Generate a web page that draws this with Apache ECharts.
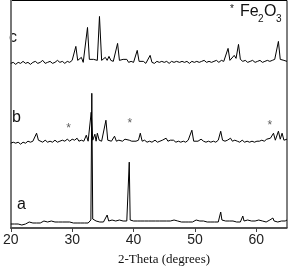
<!DOCTYPE html>
<html><head><meta charset="utf-8">
<script src="https://cdn.jsdelivr.net/npm/echarts@6/dist/echarts.min.js"></script>
<style>html,body{margin:0;padding:0;background:#fff}#c{width:288px;height:268px}</style>
</head><body><div id="c"></div>
<script>
// 2-Theta (degrees), intensity (arbitrary units, relative to each trace baseline)
const seriesA = [[20.0,0],[20.3,1],[20.6,0],[20.9,1],[21.2,0],[21.5,1],[21.8,-1],[22.1,1],[22.4,0],[22.7,1],[23.0,2],[23.3,0],[23.6,1],[23.9,2],[24.2,1],[24.5,2],[24.8,1],[25.1,2],[25.4,3],[25.7,1],[26.0,2],[26.3,1],[26.6,3],[26.9,1],[27.2,2],[27.5,1],[27.8,2],[28.1,1],[28.4,2],[28.7,1],[29.0,2],[29.3,1],[29.6,2],[29.9,0],[30.2,1],[30.5,2],[30.8,1],[31.1,2],[31.4,1],[31.7,2],[32.0,1],[32.3,2],[32.6,1],[32.9,2],[33.05,4],[33.2,131],[33.35,5],[33.6,4],[33.9,3],[34.2,4],[34.5,2],[34.8,3],[35.1,2],[35.4,3],[35.7,9],[35.95,3],[36.2,2],[36.5,4],[36.8,2],[37.1,3],[37.4,2],[37.7,4],[38.0,2],[38.3,3],[38.6,2],[38.9,3],[39.15,4],[39.3,62],[39.45,4],[39.7,2],[40.0,3],[40.3,2],[40.6,3],[40.9,2],[41.2,3],[41.5,2],[41.8,3],[42.1,2],[42.4,3],[42.7,2],[43.0,3],[43.3,2],[43.6,3],[43.9,2],[44.2,3],[44.5,2],[44.8,3],[45.1,2],[45.4,3],[45.7,2],[46.0,3],[46.3,2],[46.6,4],[46.9,2],[47.2,3],[47.5,4],[47.8,2],[48.1,3],[48.4,2],[48.7,3],[49.0,2],[49.3,3],[49.6,2],[49.9,3],[50.2,4],[50.5,2],[50.8,3],[51.1,2],[51.4,3],[51.7,4],[52.0,2],[52.3,3],[52.6,2],[52.9,3],[53.2,2],[53.5,3],[53.8,2],[54.05,3],[54.2,12],[54.4,4],[54.7,2],[55.0,3],[55.3,2],[55.6,3],[55.9,2],[56.2,3],[56.5,4],[56.8,2],[57.1,3],[57.4,2],[57.6,4],[57.8,8],[58.0,3],[58.3,2],[58.6,4],[58.9,2],[59.2,3],[59.5,2],[59.8,3],[60.1,2],[60.4,4],[60.7,2],[61.0,3],[61.3,4],[61.6,2],[61.9,3],[62.2,4],[62.5,3],[62.7,6],[62.9,3],[63.2,4],[63.5,2],[63.8,4],[64.1,3],[64.4,5],[64.7,3],[65.0,4]];
const seriesB = [[20.0,0],[20.4,1],[20.8,0],[21.2,1],[21.6,-1],[22.0,1],[22.4,0],[22.8,2],[23.2,1],[23.6,2],[23.9,3],[24.2,10],[24.5,3],[24.8,2],[25.2,1],[25.6,3],[26.0,1],[26.4,2],[26.8,1],[27.2,3],[27.6,1],[28.0,2],[28.4,3],[28.8,2],[29.2,4],[29.6,2],[30.0,4],[30.4,3],[30.8,5],[31.1,2],[31.5,3],[31.9,2],[32.3,8],[32.6,2],[32.9,3],[33.1,31],[33.35,3],[33.7,9],[33.9,2],[34.1,10],[34.4,3],[34.8,2],[35.1,4],[35.5,23],[35.8,3],[36.1,4],[36.4,2],[36.9,7],[37.2,2],[37.6,3],[37.9,5],[38.2,2],[38.6,4],[38.9,2],[39.3,3],[39.7,2],[40.0,4],[40.4,2],[40.8,3],[41.1,10],[41.4,2],[41.8,3],[42.2,1],[42.6,2],[43.0,1],[43.5,3],[43.9,1],[44.3,2],[44.7,3],[45.0,2],[45.3,5],[45.6,2],[46.0,3],[46.5,3],[46.9,1],[47.3,2],[47.7,1],[48.1,2],[48.5,1],[48.9,3],[49.2,2],[49.5,13],[49.8,2],[50.1,3],[50.5,2],[51.0,4],[51.4,2],[51.8,1],[52.2,2],[52.6,1],[53.0,2],[53.4,1],[53.8,3],[54.2,12],[54.5,3],[54.9,2],[55.3,3],[55.8,5],[56.1,2],[56.5,3],[56.9,2],[57.3,1],[57.7,3],[58.1,1],[58.5,2],[58.9,1],[59.3,2],[59.7,1],[60.1,2],[60.5,2],[60.9,3],[61.3,2],[61.7,4],[62.0,3],[62.3,5],[62.8,10],[63.1,3],[63.6,12],[63.9,4],[64.2,10],[64.5,3],[65.0,4]];
const seriesC = [[20.0,0],[20.4,1],[20.8,-1],[21.2,1],[21.6,0],[22.0,2],[22.4,0],[22.8,1],[23.2,-1],[23.6,1],[24.0,2],[24.4,0],[24.8,1],[25.2,3],[25.6,0],[26.0,1],[26.4,2],[26.8,0],[27.2,1],[27.6,3],[28.0,1],[28.4,2],[28.8,0],[29.2,2],[29.6,1],[30.0,3],[30.3,2],[30.6,17],[30.9,3],[31.2,2],[31.5,6],[31.8,1],[32.1,2],[32.5,36],[32.8,4],[33.1,3],[33.5,4],[33.8,2],[34.1,3],[34.45,47],[34.8,3],[35.1,4],[35.4,6],[35.7,3],[36.0,7],[36.3,3],[36.7,2],[37.0,3],[37.4,20],[37.7,3],[38.0,2],[38.3,4],[38.6,2],[38.9,4],[39.2,1],[39.6,2],[40.0,1],[40.3,2],[40.6,13],[40.9,2],[41.2,1],[41.6,2],[42.0,0],[42.3,1],[42.7,8],[43.0,1],[43.4,0],[43.8,2],[44.2,1],[44.6,2],[45.0,1],[45.4,2],[45.8,0],[46.2,2],[46.6,1],[47.0,2],[47.2,4],[47.5,1],[47.9,2],[48.3,1],[48.7,2],[49.1,0],[49.5,2],[49.9,1],[50.3,2],[50.7,1],[51.1,2],[51.5,3],[51.9,1],[52.3,2],[52.7,1],[53.1,2],[53.5,3],[53.9,1],[54.3,3],[54.7,2],[55.0,4],[55.4,15],[55.7,3],[56.0,4],[56.4,8],[56.7,5],[57.1,19],[57.4,4],[57.8,2],[58.2,3],[58.6,1],[59.0,2],[59.4,3],[59.8,1],[60.2,2],[60.6,3],[61.0,1],[61.4,2],[61.8,3],[62.2,2],[62.6,3],[63.0,4],[63.3,5],[63.6,22],[63.9,4],[64.2,2],[64.5,3],[64.7,4],[65.0,2]];
const offsets = {a: 4, b: 85, c: 165};
const traceNames = ['a', 'b', 'c'];
const fe2o3Marks = [[29.4, 100], [39.4, 105], [62.2, 103]];
const xTicks = [20, 30, 40, 50, 60];
const xTitle = '2-Theta (degrees)';

const shift = (arr, off) => arr.map(p => [p[0], p[1] + off]);
const chart = echarts.init(document.getElementById('c'), null, {renderer: 'canvas'});
const lineStyle = {color: '#000', width: 1};
chart.setOption({
  animation: false,
  backgroundColor: '#fff',
  grid: {left: 7, right: 1, top: 0.5, bottom: 40, show: true, borderColor: '#000', borderWidth: 1},
  xAxis: {
    type: 'value', min: 20, max: 65, interval: 10,
    axisLine: {show: true, lineStyle: {color: '#444', width: 1.5}},
    axisTick: {show: true, inside: false, length: 4, lineStyle: {color: '#444'}},
    axisLabel: {show: true, margin: 5, fontSize: 14, color: '#222', fontFamily: 'Liberation Sans',
      showMaxLabel: false, formatter: v => xTicks.includes(v) ? String(v) : ''},
    splitLine: {show: false}
  },
  yAxis: {
    type: 'value', min: 0, max: 228,
    axisLine: {show: true, lineStyle: {color: '#777', width: 2}},
    axisTick: {show: false}, axisLabel: {show: false}, splitLine: {show: false}
  },
  series: [
    {type: 'line', name: 'a', data: shift(seriesA, offsets.a), showSymbol: false, symbol: 'none', lineStyle},
    {type: 'line', name: 'b', data: shift(seriesB, offsets.b), showSymbol: false, symbol: 'none', lineStyle},
    {type: 'line', name: 'c', data: shift(seriesC, offsets.c), showSymbol: false, symbol: 'none', lineStyle},
    {type: 'scatter', data: fe2o3Marks, symbolSize: 0, silent: true,
      label: {show: true, position: 'inside', formatter: '*', fontSize: 12, color: '#333', fontFamily: 'Liberation Sans'}}
  ],
  graphic: [
    {type: 'text', left: 9, top: 30, style: {text: traceNames[2], font: '16px "Liberation Sans"', fill: '#111'}},
    {type: 'text', left: 12, top: 110, style: {text: traceNames[1], font: '16px "Liberation Sans"', fill: '#111'}},
    {type: 'text', left: 17, top: 197, style: {text: traceNames[0], font: '16px "Liberation Sans"', fill: '#111'}},
    {type: 'text', left: 230, top: 4, style: {text: '*', font: '10px "Liberation Sans"', fill: '#111'}},
    {type: 'text', left: 240, top: 4, style: {text: 'Fe', font: '16px "Liberation Sans"', fill: '#111'}},
    {type: 'text', left: 258, top: 14, style: {text: '2', font: '10px "Liberation Sans"', fill: '#111'}},
    {type: 'text', left: 264, top: 4, style: {text: 'O', font: '16px "Liberation Sans"', fill: '#111'}},
    {type: 'text', left: 276, top: 14, style: {text: '3', font: '10px "Liberation Sans"', fill: '#111'}},
    {type: 'text', left: 118, top: 253, style: {text: xTitle, font: '13px "Liberation Serif"', fill: '#111'}}
  ]
});
</script></body></html>
